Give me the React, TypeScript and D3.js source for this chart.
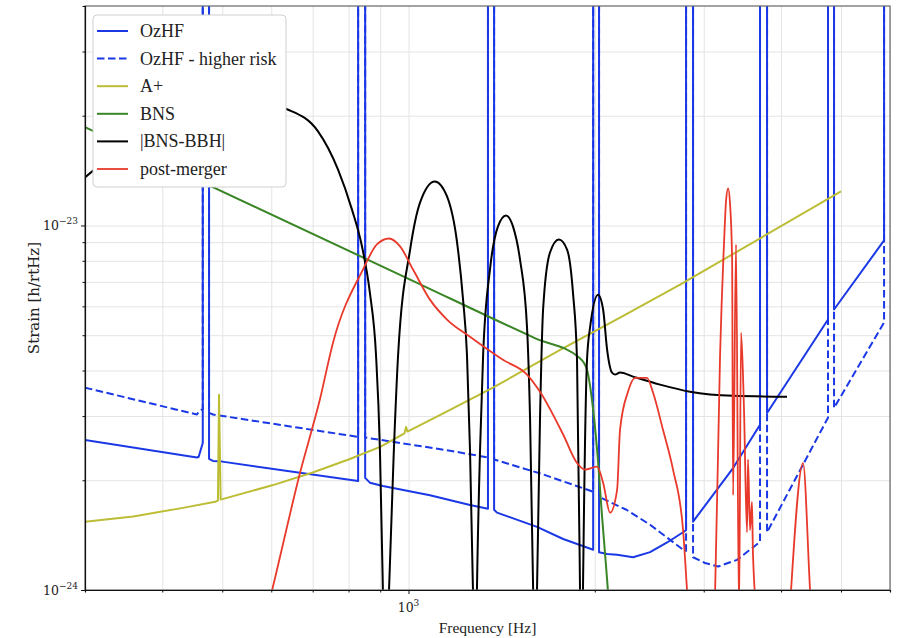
import React, { useEffect, useRef } from "react";
import * as d3 from "d3";

// [frequency Hz, strain 1/rtHz]; spikes go far above the frame and get clipped
const ozhf = [
  [300, 2.58e-24], [455, 2.31e-24], [458, 2.32e-24], [465, 2.53e-24],
  [465, 1e-21], [476, 1e-21], [476, 2.29e-24], [483, 2.26e-24], [500, 2.25e-24],
  [829, 1.99e-24], [829, 1e-21], [851, 1e-21], [851, 2.03e-24], [866, 1.97e-24],
  [909, 1.93e-24], [1083, 1.82e-24], [1257, 1.71e-24], [1344, 1.67e-24],
  [1344, 1e-21], [1375, 1e-21], [1375, 1.66e-24], [1390, 1.63e-24],
  [1613, 1.49e-24], [1778, 1.38e-24], [1988, 1.29e-24], [1988, 1e-21],
  [2032, 1e-21], [2032, 1.27e-24], [2094, 1.256e-24], [2173, 1.25e-24],
  [2306, 1.23e-24], [2457, 1.27e-24], [2618, 1.35e-24], [2778, 1.44e-24],
  [2809, 1.46e-24], [2809, 1e-21], [2883, 1e-21], [2883, 1.54e-24],
  [3346, 2.16e-24], [3699, 2.84e-24], [3699, 1e-21], [3797, 1e-21],
  [3797, 3.06e-24], [4764, 5.52e-24], [4764, 1e-21], [4872, 1e-21],
  [4872, 5.88e-24], [5869, 9.1e-24], [5869, 1e-21], [6100, 1e-21],
];

const ozhfRisk = [
  [300, 3.59e-24], [455, 3.03e-24], [458, 3.08e-24], [465, 3.14e-24],
  [465, 1e-21], [476, 1e-21], [476, 3.06e-24], [483, 3.03e-24],
  [829, 2.63e-24], [829, 1e-21], [851, 1e-21], [851, 2.62e-24],
  [1167, 2.41e-24], [1344, 2.31e-24], [1344, 1e-21], [1375, 1e-21],
  [1375, 2.28e-24], [1644, 2.08e-24], [1988, 1.86e-24], [1988, 1e-21],
  [2032, 1e-21], [2032, 1.8e-24], [2250, 1.66e-24], [2457, 1.51e-24],
  [2778, 1.29e-24], [2809, 1.28e-24], [2809, 1e-21], [2883, 1e-21],
  [2883, 1.23e-24], [3014, 1.186e-24], [3166, 1.16e-24], [3396, 1.21e-24],
  [3564, 1.29e-24], [3699, 1.355e-24], [3699, 1e-21], [3797, 1e-21],
  [3797, 1.44e-24], [4764, 2.97e-24], [4764, 1e-21], [4872, 1e-21],
  [4872, 3.16e-24], [5869, 5.42e-24], [5869, 1e-21], [6100, 1e-21],
];

const aPlus = [
  [300, 1.54e-24], [359, 1.59e-24], [432, 1.68e-24], [487, 1.745e-24],
  [492, 1.76e-24], [494, 3.43e-24], [497, 1.77e-24], [604, 1.94e-24],
  [700, 2.1e-24], [800, 2.28e-24], [900, 2.47e-24], [985, 2.69e-24],
  [991, 2.8e-24], [996, 2.72e-24], [1167, 3.12e-24], [1369, 3.59e-24],
  [1758, 4.56e-24], [2197, 5.59e-24], [2747, 6.88e-24], [5000, 1.24e-23],
];

const bns = [
  [300, 1.86e-23], [1000, 7.14e-24], [1600, 4.91e-24], [1893, 4.32e-24],
  [1943, 4.02e-24], [1979, 3.33e-24], [2017, 2.43e-24], [2055, 1.59e-24],
  [2094, 1.065e-24], [2120, 8e-25],
];

const bnsBbh = [
  [300, 1.355e-23], [342, 1.617e-23], [397, 1.895e-23], [460, 2.084e-23],
  [534, 2.177e-23], [586, 2.164e-23], [636, 2.084e-23], [714, 1.812e-23],
  [769, 1.425e-23], [810, 1.107e-23], [841, 8.76e-24], [866, 6.54e-24],
  [886, 4.42e-24], [899, 2.43e-24], [909, 1e-24], [918, 4e-25],
  [930, 1e-24], [947, 2.43e-24], [962, 4.42e-24], [1006, 8.59e-24],
  [1044, 1.157e-23], [1103, 1.321e-23], [1154, 1.201e-23], [1198, 8.98e-24],
  [1225, 6.26e-24], [1243, 4.42e-24], [1257, 2.43e-24], [1271, 1e-24],
  [1281, 4e-25], [1290, 1e-24], [1305, 2.43e-24], [1320, 4.42e-24],
  [1354, 7.57e-24], [1395, 9.94e-24], [1437, 1.065e-23], [1475, 9.94e-24],
  [1514, 8.07e-24], [1554, 5.28e-24], [1572, 2.93e-24], [1590, 1e-24],
  [1601, 4e-25], [1613, 1e-24], [1631, 2.93e-24], [1650, 5.88e-24],
  [1693, 8.43e-24], [1750, 9.15e-24], [1804, 8.59e-24], [1844, 6.54e-24],
  [1872, 4.28e-24], [1893, 1e-24], [1903, 4e-25], [1914, 1e-24],
  [1943, 4.28e-24], [1966, 5.28e-24], [2025, 6.46e-24], [2063, 5.88e-24],
  [2094, 4.56e-24], [2132, 3.95e-24], [2156, 3.9e-24], [2197, 3.95e-24],
  [2306, 3.85e-24], [2550, 3.66e-24], [2851, 3.5e-24], [3346, 3.41e-24],
  [4090, 3.39e-24],
];

const postMerger = [
  [586, 8.3e-25], [602, 1e-24], [668, 2.1e-24], [719, 3.33e-24],
  [755, 4.77e-24], [844, 7.57e-24], [889, 8.87e-24], [930, 9.21e-24],
  [969, 8.76e-24], [1017, 7.57e-24], [1083, 6.26e-24], [1154, 5.52e-24],
  [1257, 4.95e-24], [1421, 4.28e-24], [1554, 3.9e-24], [1631, 3.5e-24],
  [1778, 2.67e-24], [1872, 2.23e-24], [1929, 2.14e-24], [2017, 2.18e-24],
  [2063, 1.97e-24], [2117, 1.63e-24], [2173, 1.88e-24], [2197, 2.75e-24],
  [2263, 3.5e-24], [2324, 3.82e-24], [2429, 3.82e-24], [2484, 3.48e-24],
  [2578, 2.75e-24], [2676, 2.14e-24], [2778, 1.46e-24], [2819, 1e-24],
  [2840, 8.3e-25], [3094, 6.8e-25], [3130, 1e-24], [3188, 4.42e-24],
  [3237, 9.15e-24], [3261, 1.179e-23], [3285, 1.264e-23], [3309, 1.142e-23],
  [3334, 8.07e-24], [3346, 1.82e-24], [3383, 8.87e-24], [3421, 8.5e-25],
  [3447, 5.08e-24], [3485, 3.12e-24], [3524, 1.44e-24], [3537, 2.28e-24],
  [3564, 1.46e-24], [3590, 1.745e-24], [3603, 1.26e-24], [3657, 8.8e-25],
  [4107, 7.3e-25], [4152, 1e-24], [4341, 2.23e-24], [4456, 1e-24],
  [4506, 7.3e-25],
];

const seriesNames = ["OzHF", "OzHF - higher risk", "A+", "BNS", "|BNS-BBH|", "post-merger"];
const xGridTicks = [300, 400, 500, 600, 700, 800, 900, 1000, 2000, 3000, 4000, 5000, 6000];
const xMinorTicks = [400, 500, 600, 700, 800, 900, 2000, 3000, 4000, 5000];
const xMajorTicks = [1000];
const yGridTicks = [2e-24, 3e-24, 4e-24, 5e-24, 6e-24, 7e-24, 8e-24, 9e-24, 1e-23, 2e-23, 3e-23];
const yMinorTicks = [2e-24, 3e-24, 4e-24, 5e-24, 6e-24, 7e-24, 8e-24, 9e-24, 2e-23, 3e-23];
const yMajorTicks = [1e-24, 1e-23];

const App = () => {
  const chartRef = useRef<SVGSVGElement>(null);

  useEffect(() => {
    const width = 899;
    const height = 638;
    const margin = { top: 6, right: 9, bottom: 48, left: 85 };
    const innerH = height - margin.top - margin.bottom;
    const innerW = width - margin.left - margin.right;

    const svg = d3.select(chartRef.current);
    svg.selectAll("*").remove();

    const x = d3.scaleLog().domain([300, 6000]).range([margin.left, width - margin.right]);
    const y = d3.scaleLog().domain([1e-24, 4e-23]).range([height - margin.bottom, margin.top]);

    svg.append("rect").attr("width", width).attr("height", height).attr("fill", "#fff");

    // grid
    const gx = svg
      .append("g")
      .attr("transform", `translate(0,${height - margin.bottom})`)
      .call(d3.axisBottom(x).tickValues(xGridTicks).tickSize(-innerH).tickFormat(() => ""));
    gx.select(".domain").remove();
    gx.selectAll("line").attr("stroke", "#e4e4e4").attr("stroke-width", 1);

    const gy = svg
      .append("g")
      .attr("transform", `translate(${margin.left},0)`)
      .call(d3.axisLeft(y).tickValues(yGridTicks).tickSize(-innerW).tickFormat(() => ""));
    gy.select(".domain").remove();
    gy.selectAll("line").attr("stroke", "#e4e4e4").attr("stroke-width", 1);

    // curves
    svg
      .append("defs")
      .append("clipPath")
      .attr("id", "plot-clip")
      .append("rect")
      .attr("x", margin.left)
      .attr("y", margin.top)
      .attr("width", innerW)
      .attr("height", innerH);

    const plot = svg.append("g").attr("clip-path", "url(#plot-clip)");

    const straight = d3
      .line<number[]>()
      .x((d) => x(d[0]))
      .y((d) => y(d[1]));
    const smooth = d3
      .line<number[]>()
      .x((d) => x(d[0]))
      .y((d) => y(d[1]))
      .curve(d3.curveMonotoneX);

    const series = [
      { data: ozhf, color: "#1a38e6", width: 2, dash: null, gen: straight },
      { data: ozhfRisk, color: "#1a38e6", width: 2, dash: "7.5,3.5", gen: straight },
      { data: aPlus, color: "#bcbd35", width: 2, dash: null, gen: straight },
      { data: bns, color: "#3a8526", width: 2, dash: null, gen: smooth },
      { data: bnsBbh, color: "#000000", width: 2, dash: null, gen: smooth },
      { data: postMerger, color: "#e8392b", width: 1.8, dash: null, gen: smooth },
    ];

    series.forEach((s) => {
      plot
        .append("path")
        .datum(s.data)
        .attr("fill", "none")
        .attr("stroke", s.color)
        .attr("stroke-width", s.width)
        .attr("stroke-dasharray", s.dash)
        .attr("stroke-linejoin", "round")
        .attr("d", s.gen);
    });

    // frame
    svg
      .append("rect")
      .attr("x", margin.left)
      .attr("y", margin.top)
      .attr("width", innerW)
      .attr("height", innerH)
      .attr("fill", "none")
      .attr("stroke", "#666")
      .attr("stroke-width", 1.2);

    const bottom = svg
      .append("g")
      .attr("transform", `translate(0,${height - margin.bottom})`)
      .call(d3.axisBottom(x).tickValues(xMinorTicks).tickSize(2.5).tickFormat(() => ""));
    bottom.select(".domain").attr("stroke", "#111").attr("stroke-width", 1.2);
    bottom.selectAll("line").attr("stroke", "#111");

    const bottomMajor = svg
      .append("g")
      .attr("transform", `translate(0,${height - margin.bottom})`)
      .call(d3.axisBottom(x).tickValues(xMajorTicks).tickSize(4).tickFormat(() => ""));
    bottomMajor.select(".domain").remove();
    bottomMajor.selectAll("line").attr("stroke", "#111");

    const left = svg
      .append("g")
      .attr("transform", `translate(${margin.left},0)`)
      .call(d3.axisLeft(y).tickValues(yMinorTicks).tickSize(2.5).tickFormat(() => ""));
    left.select(".domain").attr("stroke", "#111").attr("stroke-width", 1.2);
    left.selectAll("line").attr("stroke", "#111");

    const leftMajor = svg
      .append("g")
      .attr("transform", `translate(${margin.left},0)`)
      .call(d3.axisLeft(y).tickValues(yMajorTicks).tickSize(4).tickFormat(() => ""));
    leftMajor.select(".domain").remove();
    leftMajor.selectAll("line").attr("stroke", "#111");

    // tick labels as 10^n
    const tickFont = "'DejaVu Serif', serif";
    yMajorTicks.forEach((v) => {
      const t = svg
        .append("text")
        .attr("x", margin.left - 7)
        .attr("y", y(v) + 5)
        .attr("text-anchor", "end")
        .attr("font-family", tickFont)
        .attr("font-size", 12.5)
        .attr("fill", "#222");
      t.append("tspan").text("10");
      t.append("tspan")
        .attr("dy", -6)
        .attr("font-size", 9)
        .text("\u2212" + Math.round(-Math.log10(v)));
    });
    xMajorTicks.forEach((v) => {
      const t = svg
        .append("text")
        .attr("x", x(v))
        .attr("y", height - margin.bottom + 22)
        .attr("text-anchor", "middle")
        .attr("font-family", tickFont)
        .attr("font-size", 12.5)
        .attr("fill", "#222");
      t.append("tspan").text("10");
      t.append("tspan")
        .attr("dy", -6)
        .attr("font-size", 9)
        .text(String(Math.round(Math.log10(v))));
    });

    svg
      .append("text")
      .attr("x", margin.left + innerW / 2)
      .attr("y", height - 5)
      .attr("text-anchor", "middle")
      .attr("font-family", "'Liberation Serif', serif")
      .attr("font-size", 15.5)
      .attr("fill", "#222")
      .text("Frequency [Hz]");

    svg
      .append("text")
      .attr("transform", `translate(39,${margin.top + innerH / 2}) rotate(-90)`)
      .attr("text-anchor", "middle")
      .attr("font-family", "'DejaVu Serif', serif")
      .attr("font-size", 15)
      .attr("fill", "#222")
      .text("Strain [h/rtHz]");

    // legend
    const legend = svg.append("g").attr("transform", "translate(93,15)");
    legend
      .append("rect")
      .attr("width", 193)
      .attr("height", 172)
      .attr("rx", 4)
      .attr("fill", "#fff")
      .attr("stroke", "#d0d0d0");

    seriesNames.forEach((name, i) => {
      const s = series[i];
      const row = 16 + i * 27.6;
      legend
        .append("line")
        .attr("x1", 4)
        .attr("x2", 35)
        .attr("y1", row)
        .attr("y2", row)
        .attr("stroke", s.color)
        .attr("stroke-width", s.width)
        .attr("stroke-dasharray", s.dash);
      legend
        .append("text")
        .attr("x", 47)
        .attr("y", row + 6)
        .attr("font-family", "'Liberation Serif', serif")
        .attr("font-size", 18)
        .attr("fill", "#222")
        .text(name);
    });
  }, []);

  return (
    <div style={{ position: "absolute", left: 0, top: 0 }}>
      <svg ref={chartRef} width={899} height={638} style={{ display: "block" }}></svg>
    </div>
  );
};

export default App;
